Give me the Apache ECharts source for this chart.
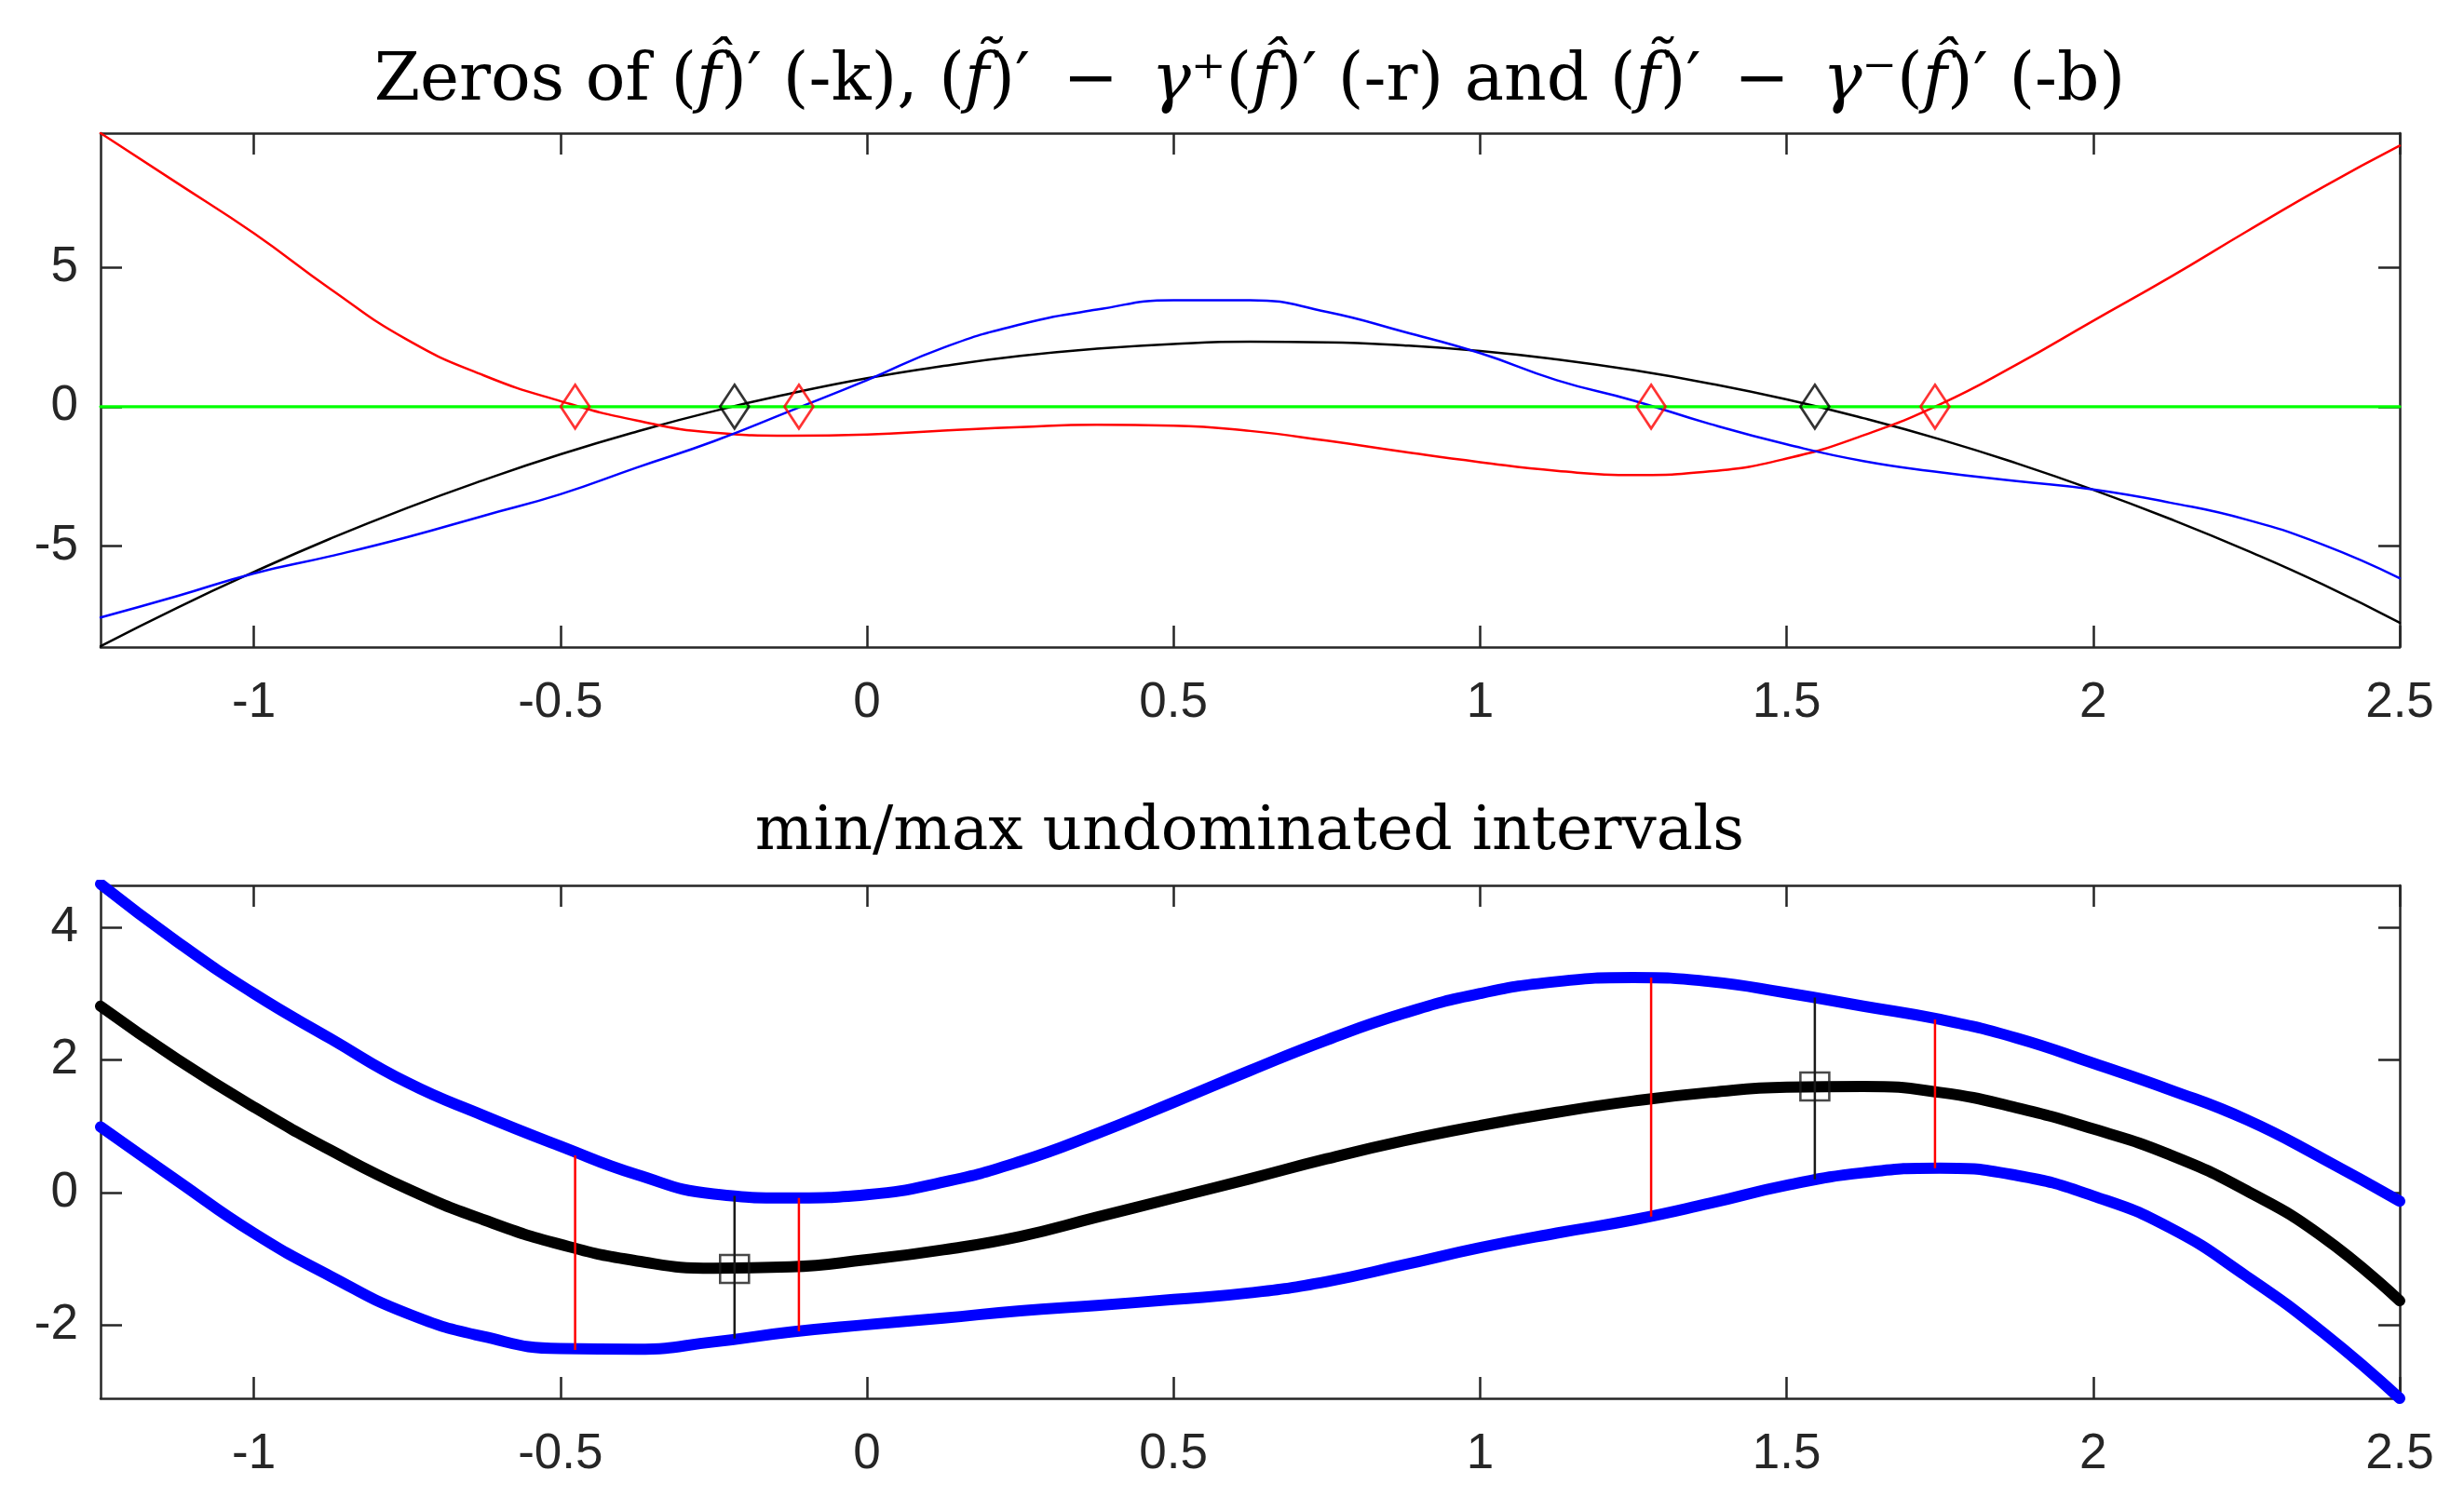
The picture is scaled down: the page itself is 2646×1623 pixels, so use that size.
<!DOCTYPE html>
<html>
<head>
<meta charset="utf-8">
<script src="https://cdn.jsdelivr.net/npm/echarts@6/dist/echarts.min.js"></script>
<style>
html,body{margin:0;padding:0;background:#fff;}
#chart{width:2646px;height:1623px;}
</style>
</head>
<body>
<div id="chart"></div>
<script>
// ---- data ----
const xs = [-1.25,-1.125,-1,-0.875,-0.75,-0.625,-0.5,-0.375,-0.25,-0.125,0,0.125,0.25,0.375,0.5,0.625,0.75,0.875,1,1.125,1.25,1.375,1.5,1.625,1.75,1.875,2,2.125,2.25,2.375,2.5];

// top panel
const topBlack = [-8.59,-7.21,-5.93,-4.73,-3.63,-2.63,-1.71,-0.89,-0.16,0.47,1.02,1.46,1.82,2.08,2.25,2.33,2.31,2.20,2.00,1.70,1.31,0.83,0.26,-0.41,-1.17,-2.03,-2.98,-4.02,-5.15,-6.38,-7.75];
const topRed   = [9.81,8.02,6.22,4.22,2.40,1.12,0.20,-0.50,-0.93,-1.04,-1.00,-0.86,-0.73,-0.65,-0.68,-0.87,-1.22,-1.62,-1.99,-2.30,-2.45,-2.32,-1.86,-1.03,0.08,1.51,3.08,4.64,6.28,7.88,9.36];
const topBlue  = [-7.56,-6.79,-5.98,-5.36,-4.68,-3.91,-3.14,-2.18,-1.24,-0.15,0.95,2.12,2.95,3.48,3.82,3.82,3.40,2.69,1.92,0.95,0.22,-0.62,-1.35,-1.95,-2.35,-2.67,-2.97,-3.44,-4.05,-4.95,-6.15];
const zeroLine = [0, 0];
const zeroLineX = [-1.25, 2.5];
const redZerosX   = [-0.476, -0.111, 1.279, 1.742];
const blackZerosX = [-0.216, 1.546];

// bottom panel
const botUpper = [4.65,3.78,3.00,2.32,1.66,1.16,0.70,0.27,-0.02,-0.08,-0.03,0.16,0.47,0.89,1.36,1.84,2.30,2.70,3.00,3.18,3.24,3.18,3.01,2.81,2.61,2.33,1.95,1.55,1.10,0.51,-0.13];
const botMid   = [2.81,2.01,1.29,0.64,0.06,-0.41,-0.78,-1.03,-1.14,-1.12,-1.01,-0.86,-0.66,-0.37,-0.08,0.21,0.51,0.78,1.01,1.21,1.38,1.51,1.59,1.60,1.51,1.28,0.96,0.57,0.03,-0.67,-1.63];
const botLower = [0.99,0.18,-0.61,-1.26,-1.82,-2.17,-2.35,-2.36,-2.25,-2.10,-1.99,-1.89,-1.78,-1.70,-1.61,-1.51,-1.34,-1.09,-0.83,-0.61,-0.41,-0.16,0.11,0.30,0.37,0.26,-0.05,-0.53,-1.26,-2.11,-3.10];
const redIntX  = [-0.476, -0.111, 1.279, 1.742];
const redIntLo = [-2.37, -2.09, -0.36, 0.37];
const redIntHi = [0.56, -0.08, 3.24, 2.61];
const blkIntX  = [-0.216, 1.546];
const blkIntLo = [-2.20, 0.20];
const blkIntHi = [-0.05, 2.94];
const blkIntMid = [-1.15, 1.60];

// ticks
const xTicks = [-1, -0.5, 0, 0.5, 1, 1.5, 2, 2.5];
const yTicksTop = [-5, 0, 5];
const yTicksBot = [-2, 0, 2, 4];
const xRange = [-1.25, 2.5];
const yRangeTop = [-8.62, 9.81];
const yRangeBot = [-3.10, 4.63];

const title1 = 'Zeros of ({i|f\u0302})\u2032 (-k), ({i|f\u0303})\u2032\u2002\u2212\u2002{i|\u03b3}\u207a({i|f\u0302})\u2032 (-r) and ({i|f\u0303})\u2032\u2002\u2212\u2002{i|\u03b3}\u207b({i|f\u0302})\u2032 (-b)';
const title2 = 'min/max undominated intervals';

// ---- chart ----
const AX = '#262626';
const serif = '"DejaVu Serif", "Liberation Serif", serif';
const sans = '"Liberation Sans", Arial, sans-serif';
const zip = (a, b) => a.map((v, i) => [v, b[i]]);

function xAxisPair(gi) {
  const common = {
    type: 'value', gridIndex: gi, min: xRange[0], max: xRange[1],
    splitLine: {show: false},
    axisLine: {show: true, onZero: false, lineStyle: {color: AX, width: 2.5}},
    axisTick: {show: true, inside: true, length: 23, customValues: xTicks, lineStyle: {color: AX, width: 2.5}}
  };
  return [
    Object.assign({}, common, {position: 'bottom',
      axisLabel: {show: true, customValues: xTicks, margin: 34, fontSize: 53, fontFamily: sans, color: AX, showMinLabel: true, showMaxLabel: true}}),
    Object.assign({}, common, {position: 'top', axisLabel: {show: false}})
  ];
}
function yAxisPair(gi, range, ticks) {
  const common = {
    type: 'value', gridIndex: gi, min: range[0], max: range[1],
    splitLine: {show: false},
    axisLine: {show: true, onZero: false, lineStyle: {color: AX, width: 2.5}},
    axisTick: {show: true, inside: true, length: 23, customValues: ticks, lineStyle: {color: AX, width: 2.5}}
  };
  return [
    Object.assign({}, common, {position: 'left',
      axisLabel: {show: true, customValues: ticks, margin: 24, fontSize: 53, fontFamily: sans, color: AX, showMinLabel: true, showMaxLabel: true}}),
    Object.assign({}, common, {position: 'right', axisLabel: {show: false}})
  ];
}

function curve(data, color, width, xi, yi, z) {
  return {type: 'line', xAxisIndex: xi, yAxisIndex: yi, data: data, showSymbol: false,
    smooth: 0.5, silent: true, z: z || 2,
    lineStyle: {color: color, width: width, cap: 'round', join: 'round'}};
}

const series = [
  curve(zip(xs, topBlack), '#000000', 2.5, 0, 0),
  curve(zip(xs, topRed), '#ff0000', 2.5, 0, 0),
  curve(zip(xs, topBlue), '#0000ff', 2.5, 0, 0),
  curve(zip(zeroLineX, zeroLine), '#00ff00', 3.2, 0, 0),
  {type: 'scatter', xAxisIndex: 0, yAxisIndex: 0, z: 5, silent: true,
    data: redZerosX.map(x => [x, 0]), symbol: 'diamond', symbolSize: [31, 47],
    itemStyle: {color: 'rgba(0,0,0,0)', borderColor: '#ff0000', borderWidth: 2.8}},
  {type: 'scatter', xAxisIndex: 0, yAxisIndex: 0, z: 5, silent: true,
    data: blackZerosX.map(x => [x, 0]), symbol: 'diamond', symbolSize: [31, 47],
    itemStyle: {color: 'rgba(0,0,0,0)', borderColor: '#000000', borderWidth: 2.8}},
  curve(zip(xs, botUpper), '#0000ff', 12, 2, 2),
  curve(zip(xs, botMid), '#000000', 12, 2, 2),
  curve(zip(xs, botLower), '#0000ff', 12, 2, 2)
];
redIntX.forEach((x, i) => {
  series.push({type: 'line', xAxisIndex: 2, yAxisIndex: 2, showSymbol: false, silent: true, z: 4,
    data: [[x, redIntLo[i]], [x, redIntHi[i]]], lineStyle: {color: '#ff0000', width: 2.5}});
});
blkIntX.forEach((x, i) => {
  series.push({type: 'line', xAxisIndex: 2, yAxisIndex: 2, showSymbol: false, silent: true, z: 4,
    data: [[x, blkIntLo[i]], [x, blkIntHi[i]]], lineStyle: {color: '#1a1a1a', width: 2.5}});
});
series.push({type: 'scatter', xAxisIndex: 2, yAxisIndex: 2, z: 5, silent: true,
  data: zip(blkIntX, blkIntMid), symbol: 'rect', symbolSize: [31, 30],
  itemStyle: {color: 'rgba(0,0,0,0)', borderColor: '#1a1a1a', borderWidth: 2.5}});

const chart = echarts.init(document.getElementById('chart'), null, {renderer: 'canvas', width: 2646, height: 1623});
chart.setOption({
  backgroundColor: '#ffffff',
  animation: false,
  title: [
    {text: title1, left: 1342, top: 53, textAlign: 'center', padding: 0,
      textStyle: {fontFamily: serif, fontSize: 71, fontWeight: 'normal', color: '#000',
        rich: {i: {fontFamily: serif, fontSize: 71, fontStyle: 'italic', color: '#000'}}}},
    {text: title2, left: 1342, top: 862, textAlign: 'center', padding: 0,
      textStyle: {fontFamily: serif, fontSize: 66, fontWeight: 'normal', color: '#000'}}
  ],
  grid: [
    {left: 108, right: 69, top: 143, height: 552, outerBoundsMode: 'none', containLabel: false},
    {left: 108, right: 69, top: 951, height: 551, outerBoundsMode: 'none', containLabel: false}
  ],
  xAxis: [].concat(xAxisPair(0), xAxisPair(1)),
  yAxis: [].concat(yAxisPair(0, yRangeTop, yTicksTop), yAxisPair(1, yRangeBot, yTicksBot)),
  series: series
});
</script>
</body>
</html>
